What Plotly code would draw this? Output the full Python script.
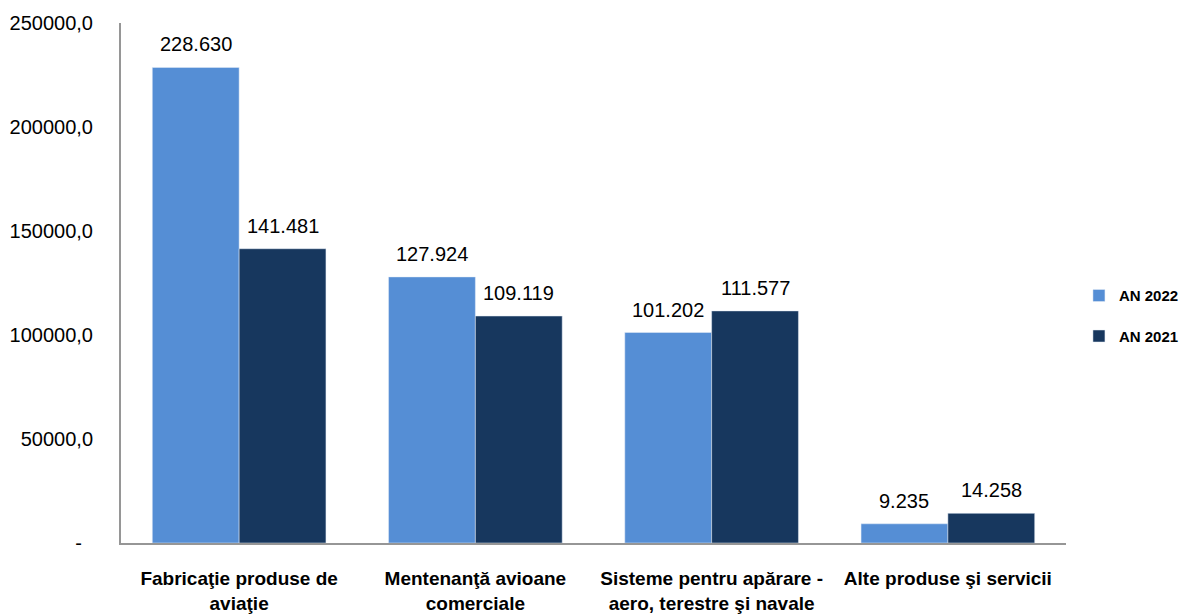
import plotly.graph_objects as go

categories = ["Fabricaţie produse de<br>aviaţie", "Mentenanţă avioane<br>comerciale",
              "Sisteme pentru apărare -<br>aero, terestre şi navale", "Alte produse şi servicii"]
an2022 = [228630, 127924, 101202, 9235]
an2021 = [141481, 109119, 111577, 14258]
tick_vals = [0, 50000, 100000, 150000, 200000, 250000]
tick_text = ["-\u00a0\u00a0", "50000,0", "100000,0", "150000,0", "200000,0", "250000,0"]

def fmt(v):
    return f"{v:,}".replace(",", ".")

FONT = "Liberation Sans"
BARGAP = 0.265
fig = go.Figure()
fig.add_trace(go.Bar(name="AN 2022", x=categories, y=an2022, marker_color="#558ED5",
                     legendgroup="a"))
fig.add_trace(go.Bar(name="AN 2021", x=categories, y=an2021, marker_color="#17375E",
                     legendgroup="b"))

# data labels above each bar (offset by half a bar width for the grouped layout)
half_bar = 43.5
for series, shift in ((an2022, -half_bar), (an2021, half_bar)):
    for cat, v in zip(categories, series):
        fig.add_annotation(x=cat, y=v, text=fmt(v), showarrow=False,
                           xref="x", yref="y", xshift=shift, yshift=23,
                           yanchor="middle", xanchor="center",
                           font=dict(size=20, family=FONT, color="#000000"))

fig.update_layout(
    width=1188, height=614, barmode="group", bargap=BARGAP, bargroupgap=0,
    plot_bgcolor="white", paper_bgcolor="white",
    margin=dict(l=113, r=127, t=15, b=79),
    font=dict(family=FONT, color="#000000"),
    legend=dict(x=1.0137, y=0.437, xanchor="left", yanchor="middle",
                font=dict(size=15, family=FONT, color="#000000", weight="bold"),
                tracegroupgap=18, itemwidth=30),
    showlegend=True,
)
fig.update_yaxes(range=[0, 250000], tickvals=tick_vals, ticktext=tick_text,
                 showgrid=False, showline=True, linecolor="#969696", linewidth=2,
                 ticks="", tickfont=dict(size=20, family=FONT), zeroline=False,
                 automargin=False, ticklabelstandoff=22)
fig.update_xaxes(showline=True, linecolor="#969696", linewidth=2, ticks="",
                 tickfont=dict(size=19, family=FONT, weight="bold"), tickangle=0,
                 automargin=False, ticklabelstandoff=17)

fig.write_html("out.html")
